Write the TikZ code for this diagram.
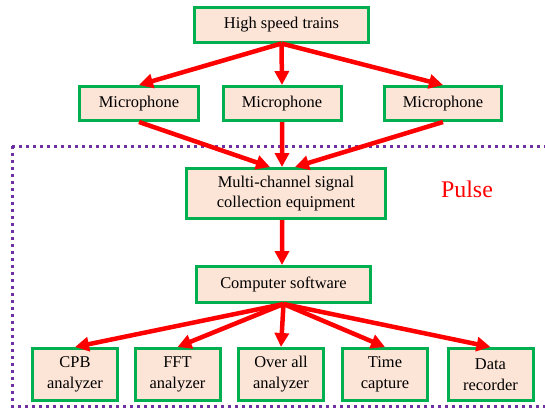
\documentclass[tikz,border=0pt]{standalone}
\usepackage{fontspec}
\setmainfont{Liberation Serif}
\usetikzlibrary{arrows.meta}

\definecolor{verde}{HTML}{00B050}
\definecolor{crema}{HTML}{FCE4D6}
\definecolor{morado}{HTML}{7030A0}

\tikzset{
  caja/.style={draw=verde, line width=3bp, fill=crema, rectangle, align=center,
    inner sep=0pt, font=\fontsize{16.5}{21}\selectfont},
  flecha/.style={draw=red, line width=4.5bp, -{Triangle[length=14bp,width=14bp]}}
}

\begin{document}
\begin{tikzpicture}[x=1bp,y=-1bp]
\useasboundingbox (0,0) rectangle (545,411);

% Recuadro punteado
\draw[morado, line width=3bp, dash pattern=on 3bp off 4bp] (12,146) rectangle (548,406);
\node[text=red, font=\fontsize{24}{28}\selectfont] (pulso) at (467,189) {Pulse};

% Cajas de arriba
\node[caja, minimum width=174bp, minimum height=35bp] (trenes) at (281.5,24.5) {High speed trains};
\node[caja, minimum width=119bp, minimum height=34bp] (mic1) at (139,103.5) {Microphone};
\node[caja, minimum width=118bp, minimum height=34bp] (mic2) at (282,103.5) {Microphone};
\node[caja, minimum width=117bp, minimum height=34bp] (mic3) at (443,103.5) {Microphone};

% Cajas del centro
\node[caja, minimum width=199bp, minimum height=50bp] (equipo) at (286,193.5) {Multi-channel signal\\collection equipment};
\node[caja, minimum width=174bp, minimum height=36bp] (software) at (283.5,284.5) {Computer software};

% Cajas de abajo
\node[caja, minimum width=85bp, minimum height=52bp] (cpb) at (75,374.5) {CPB\\analyzer};
\node[caja, minimum width=85bp, minimum height=52bp] (fft) at (177.5,374.5) {FFT\\analyzer};
\node[caja, minimum width=85bp, minimum height=52bp] (total) at (281,374.5) {Over all\\analyzer};
\node[caja, minimum width=85bp, minimum height=52bp] (tiempo) at (385,374.5) {Time\\capture};
\node[caja, minimum width=85bp, minimum height=52bp] (datos) at (490.5,374.5) {Data\\recorder};

% Flechas
\draw[flecha] (trenes.south) -- (mic1.north);
\draw[flecha] (trenes.south) -- (mic2.north);
\draw[flecha] (trenes.south) -- (mic3.north);

\draw[flecha] (mic1.south) -- ([xshift=-16bp]equipo.north);
\draw[flecha] (mic2.south) -- ([xshift=-4bp]equipo.north);
\draw[flecha] (mic3.south) -- ([xshift=9bp]equipo.north);

\draw[flecha] ([xshift=-4bp]equipo.south) -- ([xshift=-1.5bp]software.north);

\draw[flecha] (software.south) -- (cpb.north);
\draw[flecha] (software.south) -- (fft.north);
\draw[flecha] (software.south) -- (total.north);
\draw[flecha] (software.south) -- (tiempo.north);
\draw[flecha] (software.south) -- (datos.north);

\end{tikzpicture}
\end{document}
